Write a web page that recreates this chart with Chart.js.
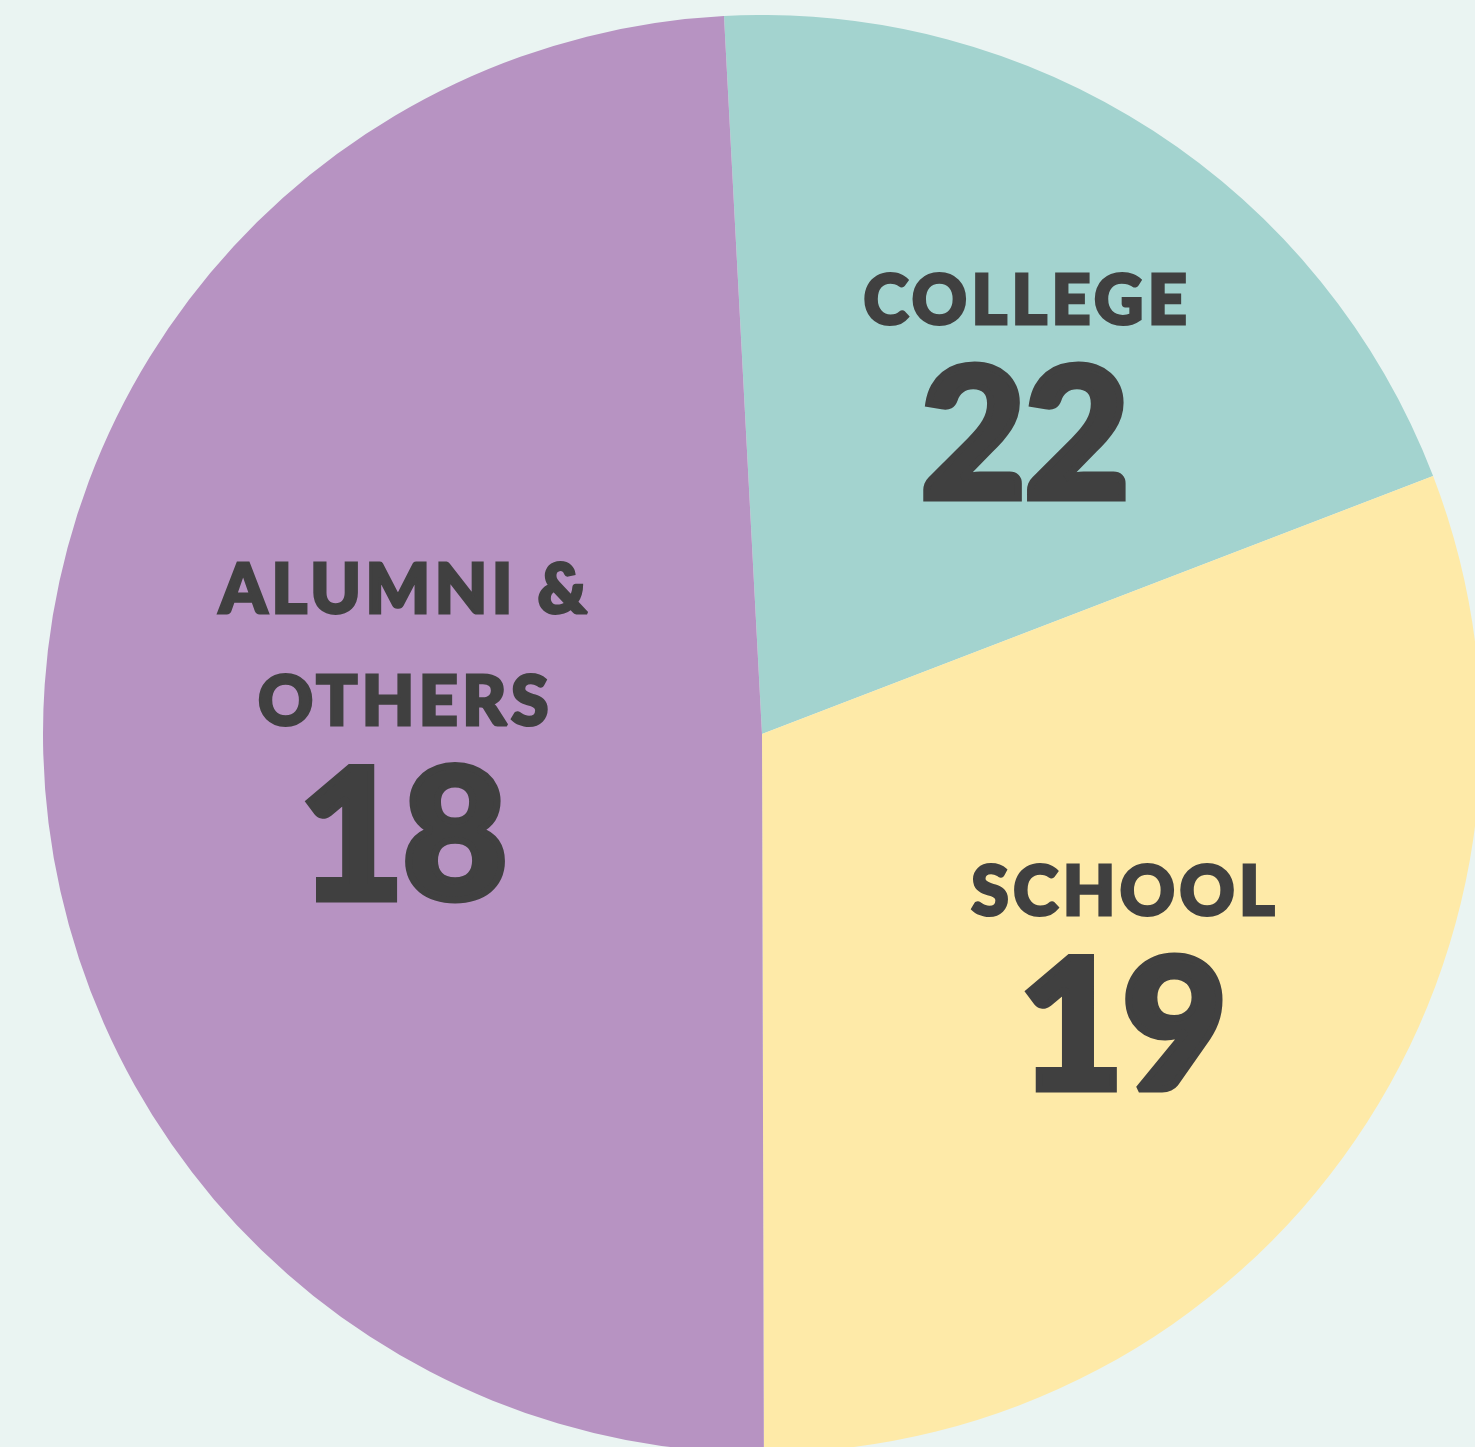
<!DOCTYPE html>
<html>
<head>
<meta charset="utf-8">
<script src="https://cdn.jsdelivr.net/npm/chart.js@4.4.1/dist/chart.umd.min.js"></script>
<style>
  html, body { margin: 0; padding: 0; width: 1475px; height: 1447px; overflow: hidden; background: #EAF4F2; }
  #wrap { position: absolute; left: 43px; top: 15px; width: 1438px; height: 1438px; }
</style>
</head>
<body>
<div id="wrap"><canvas id="c" width="1438" height="1438"></canvas></div>
<script>
// Data
const categories = ["COLLEGE", "SCHOOL", "ALUMNI & OTHERS"];
const labelLines = [["COLLEGE"], ["SCHOOL"], ["ALUMNI &", "OTHERS"]];
const counts = [22, 19, 18];            // numbers printed in each slice
const sliceShares = [20.0, 30.8, 49.2]; // share of the circle each slice covers (%)
const sliceColors = ["#A3D3CF", "#FEEAA8", "#B793C2"];

const labelPlugin = {
  id: 'sliceLabels',
  afterDatasetsDraw(chart, args, opts) {
    const ctx = chart.ctx;
    const meta = chart.getDatasetMeta(0);
    meta.data.forEach((arc, i) => {
      const r = arc.outerRadius;
      const off = opts.offsets[i];
      const x = arc.x + off[0] * r;
      const y = arc.y + off[1] * r;
      ctx.save();
      ctx.fillStyle = opts.color;
      ctx.strokeStyle = opts.color;
      ctx.lineJoin = 'miter';
      ctx.miterLimit = 2;
      ctx.textAlign = 'center';
      ctx.textBaseline = 'alphabetic';
      // number
      ctx.font = '900 182px Lato';
      ctx.letterSpacing = opts.numSpacing + 'px';
      ctx.lineWidth = 7;
      ctx.fillText(String(counts[i]), x + opts.numSpacing / 2, y - 3.5);
      ctx.strokeText(String(counts[i]), x + opts.numSpacing / 2, y - 3.5);
      // category label
      ctx.font = '900 68px Lato';
      ctx.letterSpacing = opts.labelSpacing + 'px';
      ctx.lineWidth = 3;
      const lines = labelLines[i];
      for (let k = 0; k < lines.length; k++) {
        const ly = y - opts.numGap - (lines.length - 1 - k) * opts.lineGap - 1.5;
        ctx.fillText(lines[k], x + opts.labelSpacing / 2, ly);
        ctx.strokeText(lines[k], x + opts.labelSpacing / 2, ly);
      }
      ctx.restore();
    });
  }
};

new Chart(document.getElementById('c'), {
  type: 'pie',
  data: {
    labels: categories,
    datasets: [{
      data: sliceShares,
      backgroundColor: sliceColors,
      borderWidth: 0
    }]
  },
  options: {
    responsive: false,
    animation: false,
    rotation: -3.03,
    layout: { padding: 0 },
    plugins: {
      legend: { display: false },
      tooltip: { enabled: false },
      sliceLabels: {
        color: '#404040',
        offsets: [[0.366, -0.324], [0.502, 0.499], [-0.499, 0.235]],
        numGap: 176,
        lineGap: 112,
        labelSpacing: 4.5,
        numSpacing: -2
      }
    }
  },
  plugins: [labelPlugin]
});
</script>
</body>
</html>
